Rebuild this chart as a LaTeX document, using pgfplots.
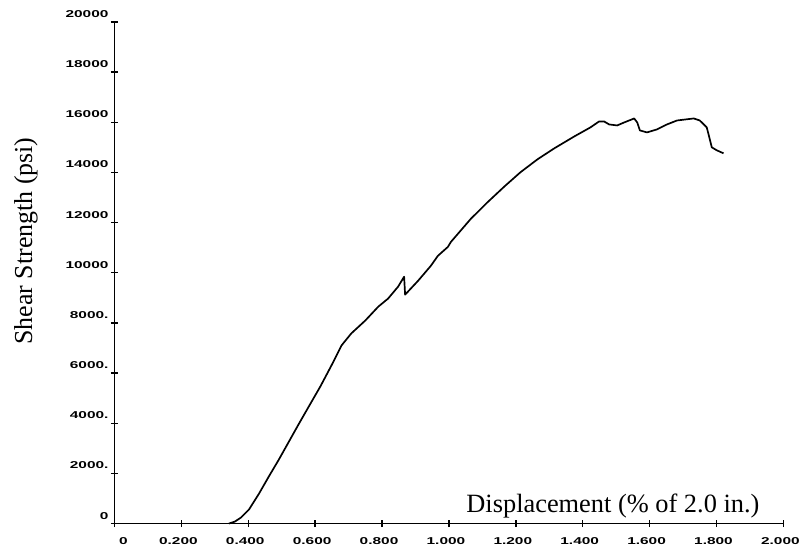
\documentclass[border=0pt]{standalone}
\usepackage{pgfplots}
\pgfplotsset{compat=1.18}
\usepackage{fontspec}
\setmainfont{Liberation Serif}
\newfontfamily\tickfont[FakeStretch=1.55]{Liberation Sans}
\begin{document}
\begin{tikzpicture}
\begin{axis}[
  scale only axis,
  width=672pt, height=504pt,
  xmin=0, xmax=2, ymin=0, ymax=20000,
  axis lines=left,
  axis line style={-, line width=1.8pt},
  clip=false,
  xtick={0,0.2,0.4,0.6,0.8,1.0,1.2,1.4,1.6,1.8,2.0},
  xticklabels={\hspace*{24pt}0,0.200,0.400,0.600,0.800,1.000,1.200,1.400,1.600,1.800,2.000},
  ytick={0,2000,4000,6000,8000,10000,12000,14000,16000,18000,20000},
  yticklabels={0,2000.,4000.,6000.,8000.,10000,12000,14000,16000,18000,20000},
  tick align=center,
  major tick length=7pt,
  tick style={line width=1.4pt, black},
  ticklabel style={font=\tickfont\bfseries\fontsize{10}{11}\selectfont},
  xticklabel style={yshift=-7pt, xshift=-3pt},
  yticklabel style={yshift=8pt, xshift=1pt},
  scaled ticks=false,
]
\addplot[black, line width=1.7pt, line join=round] coordinates {
(0.342,0) (0.360,79) (0.378,238) (0.402,556) (0.432,1190) (0.461,1865)
(0.491,2540) (0.521,3254) (0.551,3968) (0.580,4643) (0.616,5476)
(0.649,6309) (0.679,7103) (0.708,7579) (0.750,8095) (0.789,8650)
(0.818,8968) (0.848,9444) (0.866,9841) (0.869,9126) (0.908,9682)
(0.946,10277) (0.967,10674) (0.997,11031) (1.006,11229) (1.065,12142)
(1.116,12817) (1.167,13452) (1.214,14007) (1.265,14523) (1.315,14959)
(1.375,15435) (1.423,15793) (1.449,16031) (1.464,16031) (1.479,15912)
(1.503,15872) (1.524,15991) (1.554,16150) (1.563,15991) (1.571,15674)
(1.592,15594) (1.622,15713) (1.652,15912) (1.682,16070) (1.732,16150)
(1.750,16070) (1.771,15793) (1.780,15317) (1.786,14999) (1.801,14880)
(1.821,14761)
};
\node[anchor=base east, font=\fontsize{26.5}{30}\selectfont, inner sep=0pt] at (axis cs:1.929,437) {Displacement (\% of 2.0 in.)};
\node[rotate=90, anchor=center, font=\fontsize{26}{30}\selectfont, inner sep=0pt] at (axis cs:-0.265,11269) {Shear Strength (psi)};
\path (axis cs:-0.3423,-992) rectangle (axis cs:2.0476,20873);
\end{axis}
\end{tikzpicture}
\end{document}
